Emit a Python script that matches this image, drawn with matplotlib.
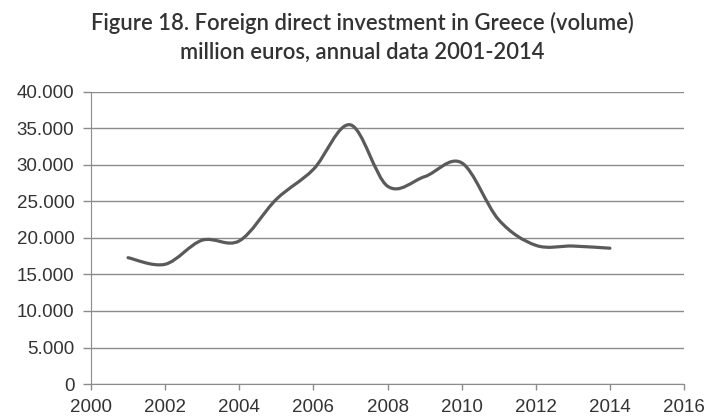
import matplotlib
matplotlib.use("Agg")
import matplotlib.pyplot as plt
from matplotlib.path import Path
from matplotlib.patches import PathPatch
from matplotlib.ticker import FuncFormatter

years = [2001, 2002, 2003, 2004, 2005, 2006, 2007, 2008, 2009, 2010, 2011, 2012, 2013, 2014]
fdi = [17300, 16400, 19700, 19600, 25300, 29400, 35500, 27100, 28400, 30300, 22500, 19000, 18900, 18600]

title_lines = ["Figure 18. Foreign direct investment in Greece (volume)",
               "million euros, annual data 2001-2014"]


def smooth_path(x, y, tension=1 / 6):
    # Excel style smoothed line: cubic Bezier segments through every point
    verts = [(x[0], y[0])]
    codes = [Path.MOVETO]
    n = len(x)
    for i in range(n - 1):
        x0, y0 = (x[i - 1], y[i - 1]) if i > 0 else (x[i], y[i])
        x3, y3 = (x[i + 2], y[i + 2]) if i + 2 < n else (x[i + 1], y[i + 1])
        c1 = (x[i] + (x[i + 1] - x0) * tension, y[i] + (y[i + 1] - y0) * tension)
        c2 = (x[i + 1] - (x3 - x[i]) * tension, y[i + 1] - (y3 - y[i]) * tension)
        verts += [c1, c2, (x[i + 1], y[i + 1])]
        codes += [Path.CURVE4] * 3
    return Path(verts, codes)


fig = plt.figure(figsize=(7.07, 4.2), dpi=100)
ax = fig.add_axes([0.1287, 0.0857, 0.8388, 0.6953])

ax.add_patch(PathPatch(smooth_path(years, fdi), facecolor="none",
                       edgecolor="#5a5a5a", linewidth=2.3, capstyle="round"))

ax.set_xlim(2000, 2016)
ax.set_ylim(0, 40000)
ax.set_xticks(range(2000, 2017, 2))
ax.set_yticks(range(0, 40001, 5000))
ax.yaxis.set_major_formatter(FuncFormatter(lambda v, p: f"{int(v):,}".replace(",", ".")))

ax.grid(axis="y", color="#8c8c8c", linewidth=1.0)
ax.set_axisbelow(True)
for side in ["top", "right"]:
    ax.spines[side].set_visible(False)
for side in ["left", "bottom"]:
    ax.spines[side].set_color("#8c8c8c")
ax.tick_params(colors="#8c8c8c", width=1.0, labelcolor="#333333", labelsize=13.5)
ax.tick_params(axis="x", length=4, pad=7)
ax.tick_params(axis="y", length=6, pad=6)
for lbl in ax.get_xticklabels() + ax.get_yticklabels():
    lbl.set_family("Liberation Sans")

for line, yb in zip(title_lines, [1 - 30 / 420, 1 - 59 / 420]):
    fig.text(0.513, yb, line, ha="center", va="baseline", fontsize=15.8,
             family="Lato", weight="semibold", color="#333333")

plt.savefig("out.png", dpi=100)
